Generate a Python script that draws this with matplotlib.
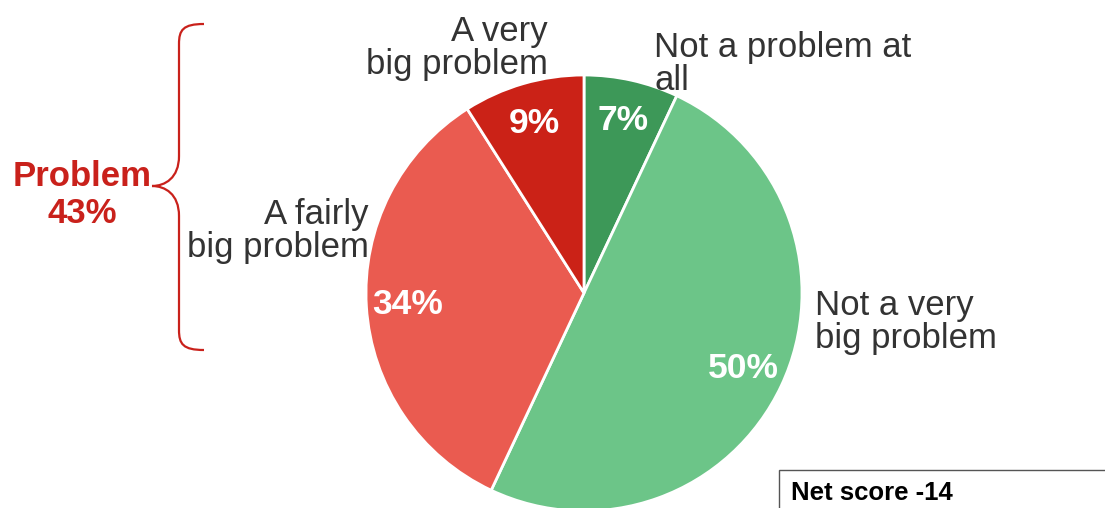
import matplotlib.pyplot as plt
from matplotlib.path import Path
from matplotlib.patches import PathPatch, Rectangle

plt.rcParams['font.family'] = ['Liberation Sans', 'DejaVu Sans']

# Survey answers, clockwise from 12 o'clock
categories = ['Not a problem at\nall', 'Not a very\nbig problem',
              'A fairly\nbig problem', 'A very\nbig problem']
shares = [7, 50, 34, 9]
colors = ['#3d9858', '#6cc588', '#ea5b50', '#cb2217']
problem_total = shares[2] + shares[3]
net_score = -14

W, H = 1105, 508
fig = plt.figure(figsize=(W / 100, H / 100), dpi=100)
ax = fig.add_axes([0, 0, 1, 1])
ax.set_xlim(0, W)
ax.set_ylim(0, H)
ax.set_aspect('equal')
ax.axis('off')


def py(y):
    # top-down pixel row -> axis y
    return H - y


# === PIE ===
_, _, pcts = ax.pie(shares, colors=colors, startangle=90, counterclock=False,
                    center=(584, py(293)), radius=218,
                    autopct='%d%%', pctdistance=0.81,
                    wedgeprops=dict(edgecolor='white', linewidth=2),
                    textprops=dict(color='white', fontsize=25.5,
                                   fontweight='bold'))
ax.set_xlim(0, W)
ax.set_ylim(0, H)

# category labels around the pie
txt = dict(color='#333333', fontsize=25, linespacing=1.0)
ax.text(654, py(31), categories[0], ha='left', va='top', **txt)
ax.text(815, py(289), categories[1], ha='left', va='top', **txt)
ax.text(369, py(198), categories[2], ha='right', va='top', **txt)
ax.text(548, py(15), categories[3], ha='right', va='top', **txt)

# === BRACE ===
red = '#c9211b'
top, bot, tip_y = 24, 350, 186
xs, xb, xt = 204, 179, 152
verts = [
    (xs, top),
    (xb + 4, top), (xb, top + 6), (xb, top + 20),
    (xb, tip_y - 30),
    (xb, tip_y - 8), (xb - 14, tip_y), (xt, tip_y),
    (xb - 14, tip_y), (xb, tip_y + 8), (xb, tip_y + 30),
    (xb, bot - 20),
    (xb, bot - 6), (xb + 4, bot), (xs, bot),
]
codes = [Path.MOVETO,
         Path.CURVE4, Path.CURVE4, Path.CURVE4,
         Path.LINETO,
         Path.CURVE4, Path.CURVE4, Path.CURVE4,
         Path.CURVE4, Path.CURVE4, Path.CURVE4,
         Path.LINETO,
         Path.CURVE4, Path.CURVE4, Path.CURVE4]
brace = Path([(x, py(y)) for x, y in verts], codes)
ax.add_patch(PathPatch(brace, facecolor='none', edgecolor=red, linewidth=1.6))

ax.text(82, py(195), f'Problem\n{problem_total}%', ha='center', va='center',
        color=red, fontsize=25, fontweight='bold', linespacing=1.15)

# === NET SCORE BOX ===
ax.add_patch(Rectangle((779, py(530)), 400, 60, facecolor='white',
                       edgecolor='#555555', linewidth=1, clip_on=True))
ax.text(791, py(493), f'Net score {net_score}', ha='left', va='center',
        color='black', fontsize=18.5, fontweight='bold')

fig.savefig('out.png', dpi=100)
